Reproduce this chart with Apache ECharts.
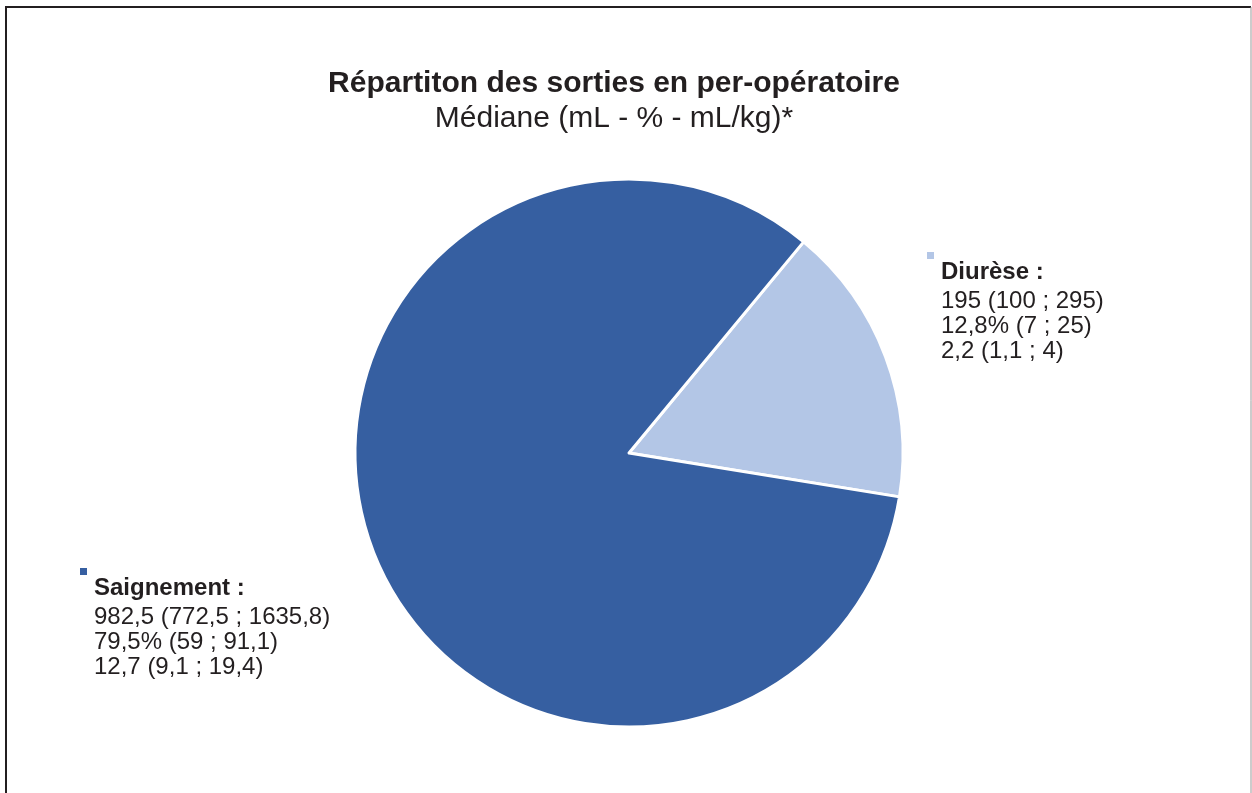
<!DOCTYPE html>
<html lang="fr">
<head>
<meta charset="UTF-8">
<title>Répartiton des sorties en per-opératoire</title>
<script src="https://cdn.jsdelivr.net/npm/echarts@6/dist/echarts.min.js"></script>
<style>
    html, body { margin: 0; padding: 0; background: #fff; }
    #chart { width: 1252px; height: 793px; }
</style>
</head>
<body>
<div id="chart"></div>
<script>
    // données (médiane, bornes)
    var names = ['Diurèse', 'Saignement'];
    var mlMed = [195, 982.5];
    var mlLow = [100, 772.5];
    var mlHigh = [295, 1635.8];
    var pctMed = [12.8, 79.5];
    var pctLow = [7, 59];
    var pctHigh = [25, 91.1];
    var kgMed = [2.2, 12.7];
    var kgLow = [1.1, 9.1];
    var kgHigh = [4, 19.4];
    var colors = ['#B3C6E6', '#365FA1'];

    // position des étiquettes
    var labelPos = [[927, 252], [80, 568]];

    function fr(v) { return String(v).replace('.', ','); }

    var pieData = names.map(function (n, i) {
        return {
            name: n,
            value: mlMed[i],
            itemStyle: { color: colors[i] },
            label: {
                rich: { sq: { width: 7, height: 7, lineHeight: 7, backgroundColor: colors[i] } }
            }
        };
    });

    var chart = echarts.init(document.getElementById('chart'));
    var txt = '#231F20';
    var font = "'Liberation Sans', Arial, sans-serif";

    chart.setOption({
        animation: false,
        title: {
            text: 'Répartiton des sorties en per-opératoire',
            subtext: 'Médiane (mL - % - mL/kg)*',
            left: 609,
            textAlign: 'center',
            top: 64,
            itemGap: 5,
            textStyle: { fontFamily: font, fontSize: 30, fontWeight: 'bold', color: txt },
            subtextStyle: { fontFamily: font, fontSize: 30, color: txt }
        },
        graphic: [
            { type: 'polyline', shape: { points: [[6, 800], [6, 7], [1251, 7]] }, style: { stroke: '#231F20', lineWidth: 2, fill: null } },
            { type: 'line', shape: { x1: 1251, y1: 7, x2: 1251, y2: 800 }, style: { stroke: '#999', lineWidth: 1 } }
        ],
        series: [{
            type: 'pie',
            center: [629, 453],
            radius: 274,
            startAngle: 50.4,
            clockwise: true,
            itemStyle: { borderColor: '#fff', borderWidth: 3 },
            labelLine: { show: false },
            label: {
                show: true,
                position: 'outside',
                fontFamily: font,
                color: txt,
                formatter: function (p) {
                    var i = p.dataIndex;
                    return '{sq|}\n{b|' + names[i] + ' :}\n' +
                        '{n|' + fr(mlMed[i]) + ' (' + fr(mlLow[i]) + ' ; ' + fr(mlHigh[i]) + ')}\n' +
                        '{n|' + fr(pctMed[i]) + '% (' + fr(pctLow[i]) + ' ; ' + fr(pctHigh[i]) + ')}\n' +
                        '{n|' + fr(kgMed[i]) + ' (' + fr(kgLow[i]) + ' ; ' + fr(kgHigh[i]) + ')}';
                },
                rich: {
                    b: { fontFamily: font, fontSize: 24, fontWeight: 'bold', color: txt, lineHeight: 30, padding: [0, 0, 3, 14] },
                    n: { fontFamily: font, fontSize: 24, color: txt, lineHeight: 25, padding: [0, 0, 0, 14] }
                }
            },
            labelLayout: function (params) {
                var pos = labelPos[params.dataIndex];
                return { x: pos[0], y: pos[1], align: 'left', verticalAlign: 'top' };
            },
            data: pieData
        }]
    });
</script>
</body>
</html>
